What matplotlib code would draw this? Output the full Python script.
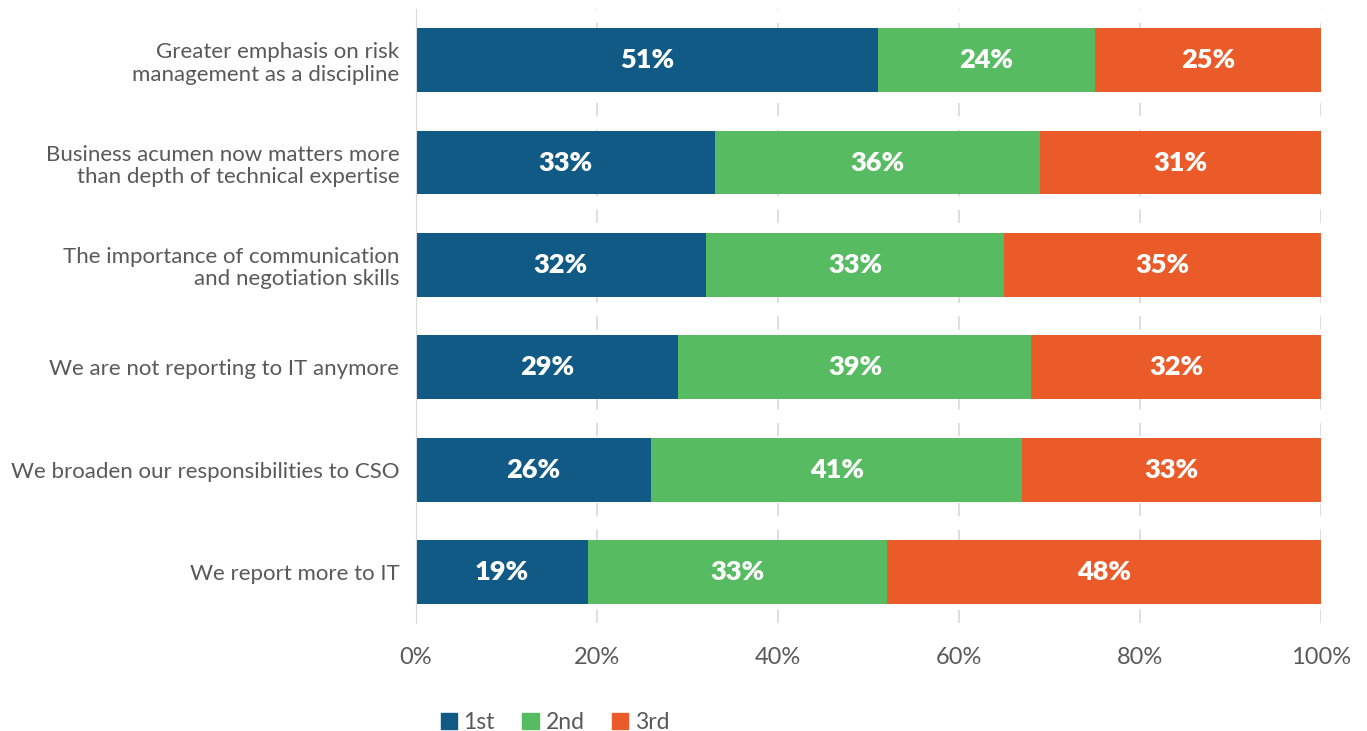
import matplotlib.pyplot as plt
from matplotlib.patches import Patch

categories = [
    "Greater emphasis on risk\nmanagement as a discipline",
    "Business acumen now matters more\nthan depth of technical expertise",
    "The importance of communication\nand negotiation skills",
    "We are not reporting to IT anymore",
    "We broaden our responsibilities to CSO",
    "We report more to IT",
]
first = [51, 33, 32, 29, 26, 19]
second = [24, 36, 33, 39, 41, 33]
third = [25, 31, 35, 32, 33, 48]
series_names = ["1st", "2nd", "3rd"]
colors = ["#115a85", "#57bb61", "#eb5b2a"]
xticks = [0, 20, 40, 60, 80, 100]

plt.rcParams['font.family'] = ['Lato', 'DejaVu Sans']
text_color = "#595959"

fig = plt.figure(figsize=(13.67, 7.31), dpi=100)
ax = fig.add_axes([0.3043, 0.1477, 0.6621, 0.84])

y = list(range(len(categories)))
left = [0] * len(categories)
for vals, color in zip([first, second, third], colors):
    ax.barh(y, vals, left=left, height=0.625, color=color, zorder=3)
    for yi, l, v in zip(y, left, vals):
        ax.text(l + v / 2, yi, f"{v}%", ha='center', va='center',
                color='white', fontsize=19.5, fontweight='heavy', zorder=4)
    left = [l + v for l, v in zip(left, vals)]

ax.set_xlim(0, 100)
ax.set_ylim(len(categories) - 0.5, -0.5)
ax.set_yticks(y)
ax.set_yticklabels(categories, fontsize=16, color=text_color, linespacing=1.15)
ax.set_xticks(xticks)
ax.set_xticklabels([f"{t}%" for t in xticks], fontsize=17, color=text_color)
ax.tick_params(axis='both', length=0)
ax.tick_params(axis='x', pad=17)
ax.tick_params(axis='y', pad=12)

for s in ['top', 'right', 'bottom']:
    ax.spines[s].set_visible(False)
ax.spines['left'].set_color('#d9d9d9')
ax.spines['left'].set_zorder(5)
ax.xaxis.grid(True, color='#d9d9d9', linestyle=(0, (8, 8)), linewidth=1.2, zorder=0)
ax.set_axisbelow(True)

handles = [Patch(color=c, label=n) for c, n in zip(colors, series_names)]
fig.legend(handles=handles, loc='center', bbox_to_anchor=(0.406, 0.011),
           ncol=3, frameon=False, fontsize=16.5, handlelength=0.7, handleheight=0.7,
           handletextpad=0.3, columnspacing=1.2, labelcolor=text_color)

fig.savefig("out.png", dpi=100)
